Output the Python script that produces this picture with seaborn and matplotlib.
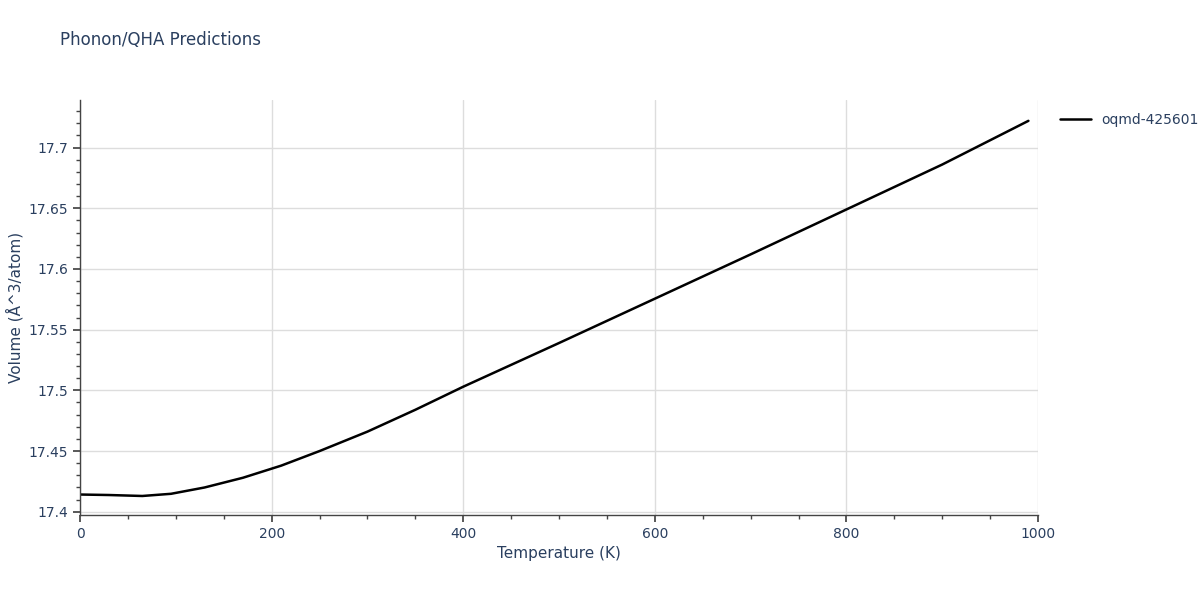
import matplotlib
matplotlib.use("Agg")
import matplotlib.pyplot as plt
import seaborn as sns
import pandas as pd
from matplotlib.ticker import MultipleLocator

temperature = [0, 30, 65, 95, 130, 170, 210, 250, 300, 350, 400, 500, 600, 700, 800, 900, 990]
volume = [17.4142, 17.4138, 17.4130, 17.4148, 17.4200, 17.4280, 17.4380, 17.4500, 17.4660, 17.4840, 17.5030, 17.5390, 17.5755, 17.6120, 17.6490, 17.6860, 17.7220]
series_name = "oqmd-425601"

sns.set_theme(style="white")
plt.rcParams['font.family'] = ['DejaVu Sans']
df = pd.DataFrame({"T": temperature, "V": volume, "s": series_name})

fig = plt.figure(figsize=(12, 6), dpi=100)
ax = fig.add_axes([0.0667, 0.142, 0.7983, 0.691])
sns.lineplot(data=df, x="T", y="V", hue="s", palette=["black"], linewidth=1.8, ax=ax)
ax.set_xlim(0, 1000)
ax.set_ylim(17.3975, 17.739)
ax.xaxis.set_major_locator(MultipleLocator(200))
ax.xaxis.set_minor_locator(MultipleLocator(50))
ax.yaxis.set_major_locator(MultipleLocator(0.05))
ax.yaxis.set_minor_locator(MultipleLocator(0.01))
ax.grid(True, which="major", color="#dddddd", linewidth=1)
txt = "#2a3f5f"
ax.tick_params(which="major", direction="out", length=5, color="#444", labelcolor=txt, labelsize=10, left=True, bottom=True)
ax.tick_params(which="minor", direction="out", length=3, color="#444", left=True, bottom=True)
ax.set_yticks([17.4, 17.45, 17.5, 17.55, 17.6, 17.65, 17.7])
ax.set_yticklabels(["17.4", "17.45", "17.5", "17.55", "17.6", "17.65", "17.7"])
for s in ["top", "right"]:
    ax.spines[s].set_visible(False)
for s in ["left", "bottom"]:
    ax.spines[s].set_color("#444")
    ax.spines[s].set_linewidth(1)
ax.set_xlabel("Temperature (K)", color=txt, fontsize=11)
ax.set_ylabel("Volume (Å^3/atom)", color=txt, fontsize=11)
ax.legend(loc="upper left", bbox_to_anchor=(1.01, 1.0), frameon=False, fontsize=10, labelcolor=txt, handlelength=2.2)
fig.text(0.05, 0.925, "Phonon/QHA Predictions", color=txt, fontsize=12)
fig.savefig("out.png")
